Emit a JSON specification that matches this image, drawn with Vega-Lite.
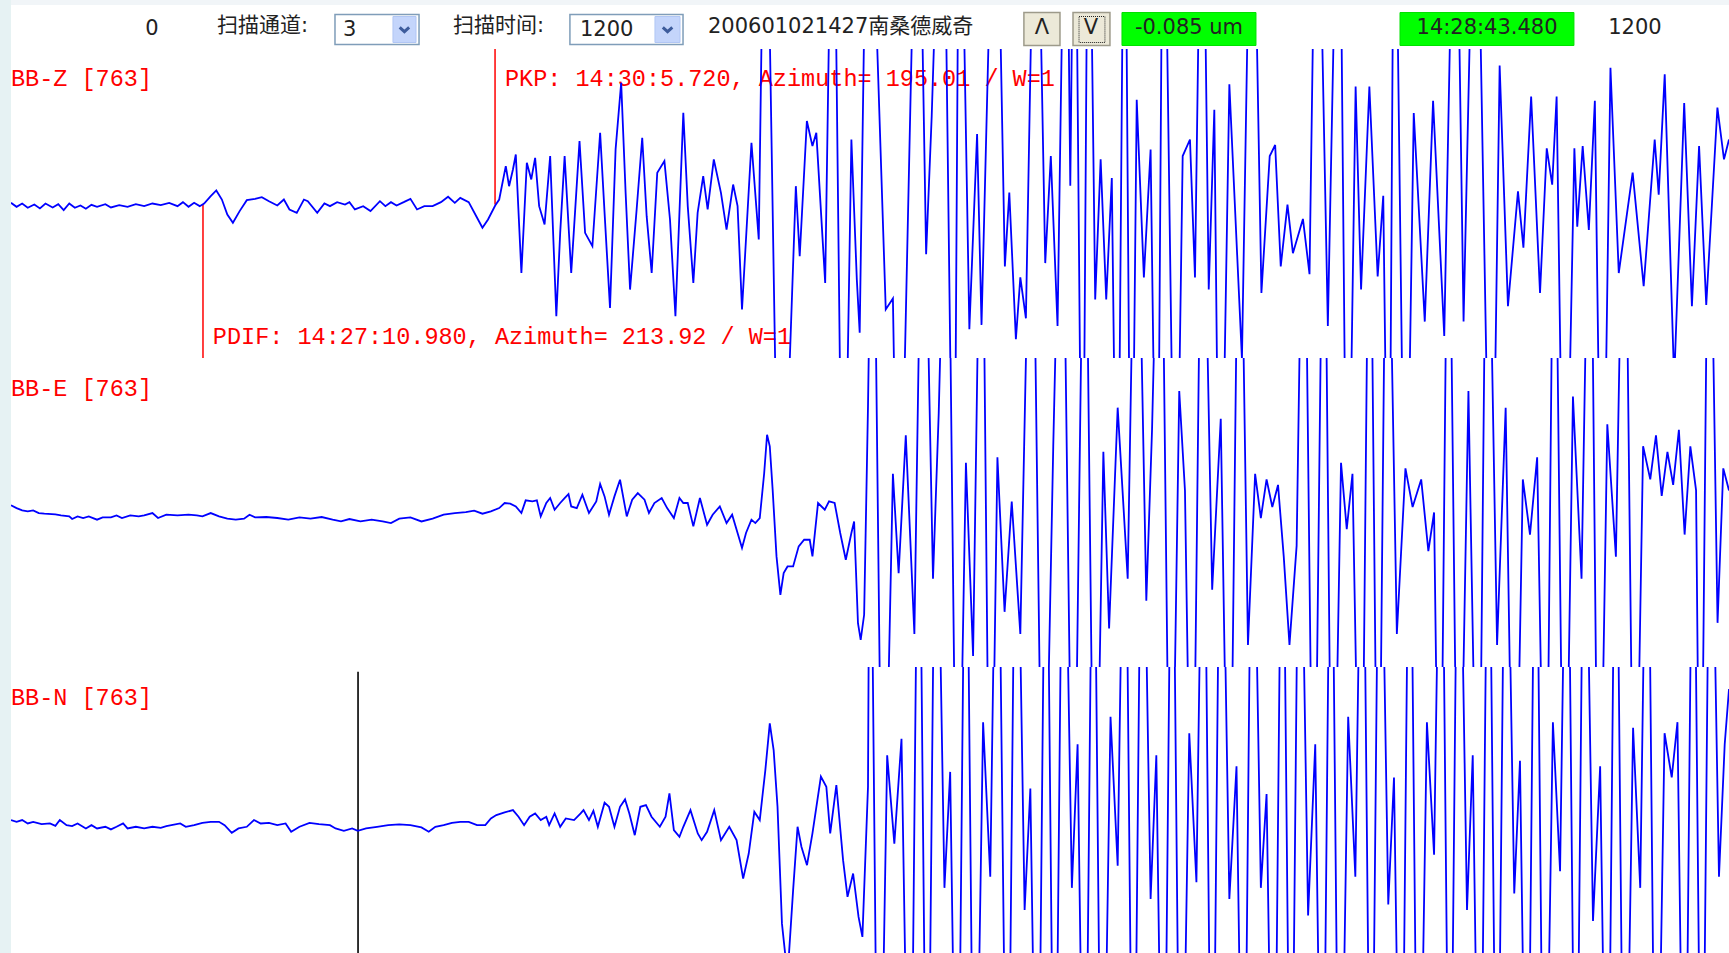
{
"$schema": "https://vega.github.io/schema/vega-lite/v6.json",
"background": "#e6f2f3",
"padding": {"left": 11, "top": 0, "right": 0, "bottom": 0},
"spacing": 0,
"bounds": "flush",
"config": {"view": {"stroke": null}, "concat": {"spacing": 0}},
"datasets": {
"Z": [{"t":0,"a":1.6},{"t":3.9,"a":-2.0},{"t":7.8,"a":1.0},{"t":11.7,"a":-2.9},{"t":16.3,"a":0.1},{"t":20.2,"a":-3.5},{"t":24.1,"a":1.0},{"t":29.1,"a":-2.6},{"t":33.0,"a":0.4},{"t":36.8,"a":-5.0},{"t":40.7,"a":1.0},{"t":44.6,"a":-2.9},{"t":48.5,"a":-0.8},{"t":52.3,"a":-3.8},{"t":56.2,"a":-0.2},{"t":60.1,"a":-2.0},{"t":65.9,"a":0.4},{"t":69.8,"a":-2.6},{"t":75.6,"a":-0.5},{"t":81.4,"a":-2.0},{"t":87.2,"a":0.4},{"t":93.0,"a":-1.4},{"t":98.8,"a":1.0},{"t":104.6,"a":-0.5},{"t":110.5,"a":1.6},{"t":116.3,"a":-1.4},{"t":120.1,"a":2.2},{"t":124.0,"a":-2.0},{"t":127.9,"a":1.6},{"t":131.8,"a":-1.4},{"t":134.9,"a":1.0},{"t":139.5,"a":7.7},{"t":143.4,"a":12.8},{"t":147.3,"a":4.6},{"t":151.1,"a":-9.0},{"t":155.0,"a":-16.5},{"t":159.7,"a":-5.9},{"t":164.7,"a":4.0},{"t":170.5,"a":5.2},{"t":175.2,"a":6.8},{"t":180.2,"a":3.1},{"t":186.0,"a":-0.8},{"t":190.6,"a":4.6},{"t":194.5,"a":-4.4},{"t":199.6,"a":-7.5},{"t":204.6,"a":4.6},{"t":207.3,"a":3.1},{"t":213.9,"a":-7.5},{"t":218.9,"a":1.0},{"t":222.8,"a":-1.4},{"t":227.8,"a":2.2},{"t":233.3,"a":0.1},{"t":236.4,"a":2.2},{"t":240.2,"a":-4.4},{"t":246.0,"a":-1.4},{"t":251.1,"a":-5.9},{"t":257.7,"a":3.1},{"t":261.5,"a":-1.4},{"t":265.4,"a":2.2},{"t":269.3,"a":-0.8},{"t":274.3,"a":2.2},{"t":279.0,"a":5.2},{"t":283.6,"a":-4.4},{"t":288.7,"a":-1.4},{"t":294.5,"a":-1.4},{"t":300.3,"a":2.2},{"t":305.3,"a":7.1},{"t":310.0,"a":1.6},{"t":313.8,"a":6.1},{"t":319.7,"a":2.2},{"t":324.7,"a":-9.9},{"t":329.3,"a":-21.0},{"t":333.2,"a":-13.5},{"t":338.2,"a":-0.8},
{"t":341.0,"a":4.6},{"t":345.6,"a":34.9},{"t":347.9,"a":16.7},{"t":350.6,"a":31.8},{"t":352.6,"a":45.4},{"t":356.5,"a":-61.9},{"t":360.3,"a":37.9},{"t":363.4,"a":22.8},{"t":366.1,"a":42.4},{"t":368.9,"a":-1.4},{"t":372.7,"a":-18.0},{"t":376.6,"a":43.9},{"t":380.9,"a":-101.2},{"t":383.6,"a":-25.6},{"t":386.7,"a":43.9},{"t":391.3,"a":-61.9},{"t":397.1,"a":57.5},{"t":401.0,"a":-25.6},{"t":406.1,"a":-37.7},{"t":411.5,"a":65.1},{"t":414.6,"a":-7.5},{"t":418.4,"a":-93.6},{"t":422.3,"a":50.0},{"t":426.2,"a":110.4},{"t":429.3,"a":10.7},{"t":432.4,"a":-77.0},{"t":437.0,"a":-4.4},{"t":440.9,"a":60.6},{"t":444.0,"a":-10.5},{"t":447.5,"a":-61.9},{"t":451.4,"a":28.8},{"t":456.4,"a":39.4},{"t":460.3,"a":-13.5},{"t":464.1,"a":-101.2},{"t":469.6,"a":83.2},{"t":472.7,"a":-1.4},{"t":476.6,"a":-70.9},{"t":479.6,"a":-7.5},{"t":483.5,"a":25.8},{"t":486.6,"a":-4.4},{"t":490.9,"a":40.9},{"t":495.9,"a":10.7},{"t":499.8,"a":-22.6},{"t":504.4,"a":18.2},{"t":507.5,"a":-1.4},{"t":510.6,"a":-95.1},{"t":517.2,"a":56.0},{"t":522.3,"a":-31.6},{"t":526.9,"a":400},{"t":537.0,"a":-400},{"t":548.2,"a":16.7},{"t":550.9,"a":-46.8},{"t":555.9,"a":75.7},{"t":559.8,"a":53},{"t":562.5,"a":65},{"t":568.7,"a":-71},{"t":574.2,"a":400},{"t":581.2,"a":-400},{"t":587.0,"a":59},{"t":590.8,"a":-68},{"t":592.8,"a":-116},{"t":598.6,"a":400},{"t":611.0,"a":-95},{"t":616.0,"a":-85},{"t":620.0,"a":-400},{"t":633.4,"a":400},{"t":639.2,"a":-45},{"t":643.1,"a":80},{"t":650.9,"a":400},{"t":658.6,"a":-400},{"t":662.5,"a":400},{"t":669.4,"a":-113},{"t":674.8,"a":64},{"t":677.9,"a":-109},{"t":687.6,"a":400},{"t":694.2,"a":-56},{"t":697.3,"a":11},{"t":701.9,"a":-122},{"t":705.0,"a":-66},{"t":708.9,"a":-103},{"t":715.9,"a":400},{"t":722.4,"a":-53},{"t":726.3,"a":44},{"t":731.0,"a":-110},{"t":736.8,"a":400},{"t":739.9,"a":17},{"t":743.0,"a":400},{"t":748.4,"a":-400},{"t":752.6,"a":400},{"t":757.3,"a":-86},{"t":761.1,"a":41},{"t":765.0,"a":-86},{"t":768.9,"a":24},{"t":772.8,"a":-400},{"t":777.8,"a":400},{"t":782.4,"a":-400},{"t":786.3,"a":95},{"t":791.3,"a":-66},{"t":796.0,"a":50},{"t":800.6,"a":-400},{"t":804.9,"a":400},{"t":813.4,"a":-400},{"t":818.4,"a":44},{"t":823.5,"a":59},{"t":827.0,"a":-66},{"t":832.0,"a":400},{"t":836.6,"a":-77},{"t":840.5,"a":86},{"t":844.4,"a":-400},{"t":851.0,"a":109},{"t":859.8,"a":-140},{"t":866.8,"a":400},{"t":873.4,"a":-80},{"t":879.2,"a":44},{"t":883.0,"a":54},{"t":886.9,"a":-56},{"t":891.6,"a":0},{"t":895.4,"a":-44},{"t":902.4,"a":-13},{"t":907.0,"a":-63},{"t":912.1,"a":400},{"t":919.8,"a":-110},{"t":927.6,"a":400},{"t":933.4,"a":-400},{"t":939.2,"a":107},{"t":943.0,"a":-77},{"t":948.8,"a":107},{"t":954.6,"a":-65},{"t":958.5,"a":8},{"t":962.4,"a":-400},{"t":966.3,"a":400},{"t":974.0,"a":-400},{"t":979.8,"a":83},{"t":987.5,"a":-106},{"t":993.3,"a":94},{"t":1001.1,"a":-119},{"t":1008.8,"a":400},{"t":1014.6,"a":-106},{"t":1023.1,"a":400},{"t":1034.0,"a":-400},{"t":1039.8,"a":126},{"t":1045.6,"a":-92},{"t":1052.6,"a":12},{"t":1056.4,"a":-39},{"t":1061.8,"a":98},{"t":1068.0,"a":-80},{"t":1072.7,"a":51},{"t":1076.5,"a":18},{"t":1079.6,"a":98},{"t":1085.1,"a":-400},{"t":1092.0,"a":51},{"t":1094.0,"a":-20},{"t":1097.8,"a":53},{"t":1102.1,"a":-23},{"t":1106.3,"a":94},{"t":1111.4,"a":-400},{"t":1117.2,"a":124},{"t":1123.0,"a":-62},{"t":1132.7,"a":29},{"t":1140.4,"a":-74},{"t":1148.1,"a":59},{"t":1150.9,"a":9},{"t":1155.1,"a":118},{"t":1161.7,"a":-160},{"t":1168.7,"a":92},{"t":1174.1,"a":-92},{"t":1179.1,"a":53},{"t":1184.1,"a":-91},{"t":1191.9,"a":88},{"t":1196.5,"a":41},{"t":1200,"a":59}],
"E": [{"t":0,"a":6.5},{"t":3.9,"a":4.0},{"t":7.8,"a":1.9},{"t":11.7,"a":1.0},{"t":15.5,"a":1.9},{"t":19.4,"a":-0.5},{"t":23.3,"a":-1.1},{"t":31.0,"a":-1.7},{"t":34.9,"a":-2.6},{"t":40.7,"a":-3.5},{"t":42.7,"a":-5.9},{"t":46.5,"a":-3.5},{"t":50.4,"a":-5.0},{"t":54.3,"a":-3.5},{"t":60.1,"a":-6.5},{"t":64.0,"a":-4.4},{"t":69.8,"a":-4.4},{"t":73.7,"a":-2.6},{"t":77.5,"a":-5.0},{"t":83.3,"a":-2.6},{"t":89.2,"a":-3.5},{"t":93.0,"a":-2.6},{"t":98.8,"a":-0.5},{"t":102.7,"a":-5.0},{"t":108.5,"a":-2.0},{"t":116.3,"a":-2.6},{"t":124.0,"a":-2.0},{"t":129.8,"a":-2.6},{"t":133.7,"a":-3.5},{"t":139.5,"a":-0.5},{"t":145.3,"a":-3.5},{"t":151.1,"a":-5.6},{"t":157.0,"a":-6.5},{"t":162.8,"a":-5.6},{"t":166.6,"a":-2.0},{"t":170.5,"a":-4.4},{"t":178.3,"a":-4.1},{"t":186.0,"a":-5.0},{"t":193.7,"a":-6.5},{"t":201.5,"a":-4.4},{"t":209.2,"a":-5.6},{"t":217.0,"a":-4.1},{"t":224.7,"a":-6.5},{"t":230.5,"a":-8.1},{"t":236.4,"a":-5.9},{"t":244.1,"a":-8.1},{"t":251.9,"a":-6.5},{"t":259.6,"a":-8.1},{"t":265.4,"a":-9.6},{"t":271.2,"a":-5.6},{"t":279.0,"a":-4.4},{"t":286.7,"a":-8.1},{"t":294.5,"a":-5.6},{"t":302.2,"a":-2.0},{"t":310.0,"a":-0.5},{"t":317.7,"a":0.4},{"t":323.5,"a":1.6},{"t":329.3,"a":-1.1},{"t":335.2,"a":1.0},{"t":341.0,"a":4.0},{"t":344.8,"a":8.6},{"t":348.7,"a":8.0},{"t":352.6,"a":5.5},{"t":356.5,"a":-0.5},{"t":359.5,"a":11.0},{"t":364.2,"a":10.1},{"t":367.3,"a":11.0},{"t":370.0,"a":-3.5},{"t":373.9,"a":8.6},{"t":376.6,"a":13.1},{"t":379.7,"a":2.5},{"t":383.6,"a":8.6},{"t":386.7,"a":13.1},{"t":389.4,"a":16.7},{"t":391.3,"a":5.5},{"t":395.2,"a":4.0},{"t":399.1,"a":16.1},{"t":403.7,"a":-0.5},{"t":408.8,"a":10.1},{"t":411.5,"a":25.8},{"t":414.6,"a":14.6},{"t":417.7,"a":-2.0},{"t":421.5,"a":14.6},{"t":425.4,"a":29.7},{"t":430.1,"a":-3.5},{"t":433.9,"a":11.6},{"t":437.8,"a":17.6},{"t":442.5,"a":11.6},{"t":445.6,"a":-0.5},{"t":449.4,"a":8.6},{"t":454.5,"a":13.1},{"t":458.3,"a":4.0},{"t":463.0,"a":-5.0},{"t":466.9,"a":13.1},{"t":469.6,"a":8.6},{"t":472.7,"a":8.6},{"t":476.6,"a":-12.6},{"t":481.2,"a":13.1},{"t":486.2,"a":-11.1},{"t":490.1,"a":-2.0},{"t":495.1,"a":5.5},{"t":499.8,"a":-9.6},{"t":503.7,"a":-2.0},{"t":507.5,"a":-18.6},{"t":510.6,"a":-32.2},{"t":513.4,"a":-18.6},{"t":517.2,"a":-6.5},{"t":519.9,"a":-9.6},{"t":523.0,"a":-5.0},{"t":526.1,"a":35.8},{"t":528.1,"a":70.5},{"t":530.0,"a":60.0},{"t":532.0,"a":20.7},{"t":534.7,"a":-39.8},{"t":537.4,"a":-74.6},{"t":539.7,"a":-54.9},{"t":542.4,"a":-48.9},{"t":546.3,"a":-48.9},{"t":550.2,"a":-30.7},{"t":554.0,"a":-24.7},{"t":557.9,"a":-24.7},{"t":559.8,"a":-39.8},{"t":563.7,"a":8.6},{"t":568.4,"a":2.5},{"t":571.4,"a":10.1},{"t":575.3,"a":8.6},{"t":579.2,"a":-18.6},{"t":583.1,"a":-42.8},{"t":587.0,"a":-18.6},{"t":588.9,"a":-8.1},{"t":591.6,"a":-100.3},{"t":593.5,"a":-115.4},{"t":595.9,"a":-92.7},{"t":598.6,"a":96.2},
{"t":602,"a":400},{"t":609,"a":-400},{"t":616,"a":35},{"t":620,"a":-55},{"t":625,"a":70},{"t":631,"a":-110},{"t":637,"a":400},{"t":644,"a":-60},{"t":648,"a":90},{"t":654,"a":400},{"t":661,"a":-400},{"t":667,"a":45},{"t":672,"a":-130},{"t":678,"a":400},{"t":684,"a":-400},{"t":689,"a":50},{"t":694,"a":-90},{"t":699,"a":10},{"t":705,"a":-110},{"t":713,"a":400},{"t":721,"a":-400},{"t":728,"a":60},{"t":734,"a":400},{"t":742,"a":-400},{"t":750,"a":400},{"t":757,"a":-400},{"t":763,"a":55},{"t":767,"a":-105},{"t":773,"a":95},{"t":780,"a":-60},{"t":786,"a":400},{"t":793,"a":-80},{"t":797,"a":75},{"t":803,"a":400},{"t":810,"a":-400},{"t":816,"a":110},{"t":820,"a":20},{"t":825,"a":-400},{"t":832,"a":400},{"t":839,"a":-70},{"t":845,"a":85},{"t":851,"a":-400},{"t":858,"a":400},{"t":864,"a":-120},{"t":869,"a":35},{"t":873,"a":-5},{"t":877,"a":30},{"t":881,"a":5},{"t":885,"a":25},{"t":889,"a":-40},{"t":893,"a":-120},{"t":898,"a":-30},{"t":903,"a":400},{"t":910,"a":-400},{"t":917,"a":400},{"t":923,"a":-400},{"t":929,"a":45},{"t":933,"a":-15},{"t":937,"a":35},{"t":943,"a":-400},{"t":949,"a":400},{"t":955,"a":-400},{"t":961,"a":400},{"t":968,"a":-110},{"t":974,"a":40},{"t":979,"a":5},{"t":985,"a":30},{"t":990,"a":-35},{"t":994,"a":0},{"t":998,"a":-400},{"t":1004,"a":400},{"t":1011,"a":-400},{"t":1018,"a":110},{"t":1025,"a":-400},{"t":1031,"a":400},{"t":1038,"a":-120},{"t":1044,"a":95},{"t":1050,"a":-400},{"t":1056,"a":30},{"t":1061,"a":-20},{"t":1066,"a":50},{"t":1072,"a":-400},{"t":1078,"a":400},{"t":1085,"a":-400},{"t":1091,"a":105},{"t":1097,"a":-60},{"t":1103,"a":400},{"t":1109,"a":-400},{"t":1115,"a":80},{"t":1121,"a":-40},{"t":1127,"a":400},{"t":1134,"a":-400},{"t":1140,"a":60},{"t":1145,"a":30},{"t":1149,"a":70},{"t":1153,"a":15},{"t":1157,"a":55},{"t":1161,"a":25},{"t":1165,"a":75},{"t":1169,"a":-20},{"t":1173,"a":60},{"t":1177,"a":20},{"t":1180,"a":-400},{"t":1186,"a":400},{"t":1192,"a":-100},{"t":1196,"a":40},{"t":1200,"a":20}],
"N": [{"t":0,"a":1.4},{"t":3.9,"a":-0.2},{"t":7.8,"a":1.4},{"t":11.7,"a":-1.7},{"t":15.5,"a":-0.2},{"t":21.4,"a":-2.3},{"t":27.2,"a":-1.7},{"t":31.0,"a":-3.8},{"t":34.1,"a":1.4},{"t":38.8,"a":-3.2},{"t":42.7,"a":-4.1},{"t":46.5,"a":-1.7},{"t":52.3,"a":-6.2},{"t":56.2,"a":-3.2},{"t":60.1,"a":-6.2},{"t":65.9,"a":-4.7},{"t":69.8,"a":-7.1},{"t":73.7,"a":-4.7},{"t":78.3,"a":-1.7},{"t":81.4,"a":-6.2},{"t":87.2,"a":-4.7},{"t":93.0,"a":-6.2},{"t":98.8,"a":-4.7},{"t":104.6,"a":-5.6},{"t":108.5,"a":-4.1},{"t":118.2,"a":-1.7},{"t":122.1,"a":-4.7},{"t":127.9,"a":-3.2},{"t":133.7,"a":-1.1},{"t":139.5,"a":-0.2},{"t":145.3,"a":-0.2},{"t":149.2,"a":-3.2},{"t":154.2,"a":-10.1},{"t":158.9,"a":-6.2},{"t":164.7,"a":-4.7},{"t":169.7,"a":1.4},{"t":174.4,"a":-1.7},{"t":180.2,"a":-1.1},{"t":186.0,"a":-3.2},{"t":191.8,"a":-1.7},{"t":195.7,"a":-9.2},{"t":201.5,"a":-4.7},{"t":208.5,"a":-1.1},{"t":215.1,"a":-2.3},{"t":222.8,"a":-3.2},{"t":226.7,"a":-6.2},{"t":232.5,"a":-8.3},{"t":238.3,"a":-6.2},{"t":242.2,"a":-8.3},{"t":248.0,"a":-6.2},{"t":255.7,"a":-4.7},{"t":263.5,"a":-3.2},{"t":271.2,"a":-2.6},{"t":279.0,"a":-3.2},{"t":286.7,"a":-5.3},{"t":291.8,"a":-9.2},{"t":296.4,"a":-4.7},{"t":302.2,"a":-3.2},{"t":308.0,"a":-1.1},{"t":313.8,"a":-0.2},{"t":319.7,"a":-0.2},{"t":325.5,"a":-3.2},{"t":331.3,"a":-3.2},{"t":335.2,"a":2.9},{"t":339.0,"a":5.9},{"t":344.8,"a":8.3},{"t":350.6,"a":10.4},{"t":354.5,"a":4.4},{"t":358.4,"a":-3.2},{"t":362.3,"a":4.4},{"t":366.1,"a":7.4},{"t":370.0,"a":1.4},{"t":373.9,"a":4.4},{"t":375.9,"a":-3.2},{"t":379.7,"a":7.4},{"t":383.6,"a":-4.7},{"t":387.5,"a":2.9},{"t":393.3,"a":1.4},{"t":397.9,"a":7.4},{"t":399.9,"a":10.4},{"t":403.7,"a":1.4},{"t":406.8,"a":9.8},{"t":409.9,"a":-4.7},{"t":414.6,"a":17.1},{"t":417.7,"a":13.4},{"t":421.5,"a":-4.7},{"t":425.4,"a":13.4},{"t":428.9,"a":20.1},{"t":431.9,"a":7.4},{"t":435.7,"a":-12.3},{"t":439.6,"a":13.4},{"t":443.5,"a":15.0},{"t":447.4,"a":4.4},{"t":453.2,"a":-4.7},{"t":457.2,"a":4.4},{"t":459.9,"a":25.5},{"t":463.0,"a":-7.7},{"t":466.9,"a":-13.8},{"t":469.6,"a":-4.7},{"t":474.6,"a":10.4},{"t":479.7,"a":-10.7},{"t":482.4,"a":-16.8},{"t":486.2,"a":-9.2},{"t":491.2,"a":10.4},{"t":495.9,"a":-16.8},{"t":501.7,"a":-4.7},{"t":506.8,"a":-16.8},{"t":511.4,"a":-51.6},{"t":515.3,"a":-28.9},{"t":519.2,"a":8.9},{"t":523.0,"a":1.4},{"t":526.9,"a":46.7},{"t":530.0,"a":89.0},{"t":532.7,"a":64.8},{"t":535.4,"a":13.4},{"t":538.5,"a":-92.4},{"t":542.4,"a":-140},{"t":546.3,"a":-62.1},{"t":549.4,"a":-4.7},{"t":552.1,"a":-22.8},{"t":556.0,"a":-39.5},{"t":559.8,"a":-10.7},{"t":565.7,"a":40.7},{"t":569.5,"a":31.6},{"t":572.2,"a":-10.7},{"t":576.5,"a":33.1},{"t":581.2,"a":-34.9},{"t":584.3,"a":-68.2},{"t":588.2,"a":-47.0},{"t":592.0,"a":-86.3},{"t":594.7,"a":-104.4},{"t":598.6,"a":31.6},
{"t":600,"a":400},{"t":606,"a":-400},{"t":612,"a":60},{"t":617,"a":-20},{"t":622,"a":75},{"t":628,"a":-400},{"t":634,"a":400},{"t":640,"a":-400},{"t":646,"a":400},{"t":652,"a":-60},{"t":656,"a":45},{"t":661,"a":-400},{"t":667,"a":400},{"t":673,"a":-400},{"t":679,"a":90},{"t":684,"a":-50},{"t":689,"a":400},{"t":696,"a":-400},{"t":702,"a":400},{"t":708,"a":-80},{"t":712,"a":30},{"t":717,"a":-400},{"t":723,"a":400},{"t":729,"a":-400},{"t":735,"a":400},{"t":741,"a":-60},{"t":745,"a":70},{"t":750,"a":-400},{"t":756,"a":400},{"t":762,"a":-400},{"t":768,"a":95},{"t":773,"a":-40},{"t":778,"a":400},{"t":784,"a":-400},{"t":790,"a":400},{"t":796,"a":-70},{"t":800,"a":60},{"t":805,"a":-400},{"t":811,"a":400},{"t":817,"a":-400},{"t":823,"a":80},{"t":828,"a":-55},{"t":833,"a":400},{"t":839,"a":-400},{"t":845,"a":400},{"t":851,"a":-70},{"t":856,"a":50},{"t":861,"a":-400},{"t":867,"a":400},{"t":873,"a":-60},{"t":877,"a":25},{"t":882,"a":-400},{"t":888,"a":400},{"t":894,"a":-400},{"t":900,"a":400},{"t":906,"a":-85},{"t":911,"a":70},{"t":916,"a":-400},{"t":922,"a":400},{"t":928,"a":-400},{"t":934,"a":95},{"t":939,"a":-50},{"t":944,"a":400},{"t":950,"a":-400},{"t":956,"a":400},{"t":962,"a":-75},{"t":966,"a":40},{"t":971,"a":-400},{"t":977,"a":400},{"t":983,"a":-400},{"t":989,"a":90},{"t":994,"a":-30},{"t":999,"a":400},{"t":1005,"a":-400},{"t":1011,"a":400},{"t":1017,"a":-80},{"t":1021,"a":60},{"t":1026,"a":-400},{"t":1032,"a":400},{"t":1038,"a":-400},{"t":1044,"a":400},{"t":1050,"a":-65},{"t":1054,"a":55},{"t":1059,"a":-400},{"t":1065,"a":400},{"t":1071,"a":-400},{"t":1077,"a":90},{"t":1082,"a":-45},{"t":1087,"a":400},{"t":1093,"a":-400},{"t":1099,"a":400},{"t":1105,"a":-90},{"t":1110,"a":50},{"t":1115,"a":-400},{"t":1121,"a":400},{"t":1127,"a":-400},{"t":1133,"a":85},{"t":1138,"a":-60},{"t":1143,"a":400},{"t":1149,"a":-400},{"t":1155,"a":80},{"t":1160,"a":40},{"t":1164,"a":90},{"t":1169,"a":-400},{"t":1175,"a":400},{"t":1181,"a":-400},{"t":1187,"a":400},{"t":1193,"a":-50},{"t":1197,"a":70},{"t":1200,"a":120}],
"labels": [{"panel":"Z","label":"BB-Z [763]","t":0,"a":114},{"panel":"Z","label":"PKP: 14:30:5.720, Azimuth= 195.01 / W=1","t":345,"a":114},{"panel":"Z","label":"PDIF: 14:27:10.980, Azimuth= 213.92 / W=1","t":141,"a":-120},{"panel":"E","label":"BB-E [763]","t":0,"a":112},{"panel":"N","label":"BB-N [763]","t":0,"a":112}],
"marks": [{"panel":"Z","kind":"PKP","t":338.1,"a0":0,"a1":141},{"panel":"Z","kind":"PDIF","t":134.1,"a0":0,"a1":-139},{"panel":"N","kind":"cursor","t":242.4,"a0":135.6,"a1":-119}],
"boxes": [{"kind":"dropdown","t1":226.3,"t2":285.0,"y1":12.5,"y2":-17.5},{"kind":"dropdown","t1":390.4,"t2":469.4,"y1":12.5,"y2":-17.5},{"kind":"ddbtn","t1":266.8,"t2":282.9,"y1":10.5,"y2":-15.5},{"kind":"ddbtn","t1":449.8,"t2":467.3,"y1":10.5,"y2":-15.5},{"kind":"button","t1":707.5,"t2":732.7,"y1":14.5,"y2":-18.5},{"kind":"button","t1":741.8,"t2":767.6,"y1":14.5,"y2":-18.5},{"kind":"focus","t1":746.0,"t2":764.1,"y1":10.5,"y2":-15.5},{"kind":"green","t1":776.0,"t2":869.6,"y1":14.5,"y2":-18.5},{"kind":"green","t1":970.2,"t2":1091.7,"y1":14.5,"y2":-18.5}],
"chev": [{"t":274.8,"y":-2.5},{"t":458.6,"y":-2.5}],
"tbtext": [{"group":"left","label":"扫描通道:","t":143.9,"y":1.5},{"group":"left","label":"3","t":231.9,"y":-3},{"group":"left","label":"扫描时间:","t":308.7,"y":1.5},{"group":"left","label":"1200","t":397.4,"y":-3},{"group":"left","label":"200601021427南桑德威奇","t":486.8,"y":0.2},{"group":"center","label":"0","t":98.5,"y":-2},{"group":"center","label":"Λ","t":720.1,"y":-0.9},{"group":"center","label":"V","t":754.3,"y":-0.9},{"group":"center","label":"-0.085 um","t":822.8,"y":-0.9},{"group":"center","label":"14:28:43.480","t":1031,"y":-0.9},{"group":"center","label":"1200","t":1134.3,"y":-0.9}]
},
"vconcat": [
{"width": 1718, "height": 5, "data": {"values": [{}]}, "mark": {"type": "rect", "color": "#f1f5f8"}},
{"width": 1718, "height": 44, "view": {"fill": "#ffffff", "stroke": null},
 "layer": [
  {"data": {"name": "boxes"}, "transform": [{"filter": "datum.kind == 'dropdown'"}], "mark": {"type": "rect", "fill": "#ffffff", "stroke": "#7f9db9", "strokeWidth": 1.5},
   "encoding": {"x": {"field": "t1", "type": "quantitative", "scale": {"domain": [0, 1200], "nice": false, "zero": false}, "axis": null}, "x2": {"field": "t2"}, "y": {"field": "y1", "type": "quantitative", "scale": {"domain": [-22, 22], "nice": false, "zero": false}, "axis": null}, "y2": {"field": "y2"}}},
  {"data": {"name": "boxes"}, "transform": [{"filter": "datum.kind == 'ddbtn'"}], "mark": {"type": "rect", "fill": "#c4d5fb", "stroke": "#b1c6f4", "strokeWidth": 1},
   "encoding": {"x": {"field": "t1", "type": "quantitative"}, "x2": {"field": "t2"}, "y": {"field": "y1", "type": "quantitative"}, "y2": {"field": "y2"}}},
  {"data": {"name": "boxes"}, "transform": [{"filter": "datum.kind == 'button'"}], "mark": {"type": "rect", "fill": "#ece9d8", "stroke": "#9d9a8a", "strokeWidth": 1.5},
   "encoding": {"x": {"field": "t1", "type": "quantitative"}, "x2": {"field": "t2"}, "y": {"field": "y1", "type": "quantitative"}, "y2": {"field": "y2"}}},
  {"data": {"name": "boxes"}, "transform": [{"filter": "datum.kind == 'focus'"}], "mark": {"type": "rect", "filled": false, "stroke": "#222222", "strokeWidth": 1, "strokeDash": [1, 1]},
   "encoding": {"x": {"field": "t1", "type": "quantitative"}, "x2": {"field": "t2"}, "y": {"field": "y1", "type": "quantitative"}, "y2": {"field": "y2"}}},
  {"data": {"name": "boxes"}, "transform": [{"filter": "datum.kind == 'green'"}], "mark": {"type": "rect", "fill": "#00ff00", "stroke": "#00e000", "strokeWidth": 1},
   "encoding": {"x": {"field": "t1", "type": "quantitative"}, "x2": {"field": "t2"}, "y": {"field": "y1", "type": "quantitative"}, "y2": {"field": "y2"}}},
  {"data": {"name": "chev"}, "mark": {"type": "point", "shape": "M-1,-0.45L0,0.45L1,-0.45", "filled": false, "stroke": "#3d5c9c", "strokeWidth": 3, "size": 90, "opacity": 1},
   "encoding": {"x": {"field": "t", "type": "quantitative"}, "y": {"field": "y", "type": "quantitative"}}},
  {"data": {"name": "tbtext"}, "transform": [{"filter": "datum.group == 'left'"}], "mark": {"type": "text", "align": "left", "baseline": "middle", "font": "DejaVu Sans, Noto Sans CJK SC", "fontSize": 21, "color": "#222222"},
   "encoding": {"x": {"field": "t", "type": "quantitative"}, "y": {"field": "y", "type": "quantitative"}, "text": {"field": "label"}}},
  {"data": {"name": "tbtext"}, "transform": [{"filter": "datum.group == 'center'"}], "mark": {"type": "text", "align": "center", "baseline": "middle", "font": "DejaVu Sans", "fontSize": 21, "color": "#222222"},
   "encoding": {"x": {"field": "t", "type": "quantitative"}, "y": {"field": "y", "type": "quantitative"}, "text": {"field": "label"}}}
 ]},
{"width": 1718, "height": 309, "view": {"fill": "#ffffff", "stroke": null},
 "layer": [
  {"data": {"name": "labels"}, "transform": [{"filter": "datum.panel == 'Z'"}], "mark": {"type": "text", "align": "left", "baseline": "middle", "font": "Liberation Mono", "fontSize": 23.5, "color": "#ff0000"},
   "encoding": {"x": {"field": "t", "type": "quantitative", "scale": {"domain": [0, 1200], "nice": false, "zero": false}, "axis": null}, "y": {"field": "a", "type": "quantitative", "scale": {"domain": [-139, 141], "nice": false, "zero": false}, "axis": null}, "text": {"field": "label"}}},
  {"data": {"name": "marks"}, "transform": [{"filter": "datum.panel == 'Z'"}], "mark": {"type": "rule", "color": "#ff0000", "strokeWidth": 1.5},
   "encoding": {"x": {"field": "t", "type": "quantitative"}, "y": {"field": "a0", "type": "quantitative"}, "y2": {"field": "a1"}}},
  {"data": {"name": "Z"}, "mark": {"type": "line", "clip": true, "color": "#0000ff", "strokeWidth": 1.8},
   "encoding": {"x": {"field": "t", "type": "quantitative"}, "y": {"field": "a", "type": "quantitative"}}}
 ]},
{"width": 1718, "height": 309, "view": {"fill": "#ffffff", "stroke": null},
 "layer": [
  {"data": {"name": "labels"}, "transform": [{"filter": "datum.panel == 'E'"}], "mark": {"type": "text", "align": "left", "baseline": "middle", "font": "Liberation Mono", "fontSize": 23.5, "color": "#ff0000"},
   "encoding": {"x": {"field": "t", "type": "quantitative", "scale": {"domain": [0, 1200], "nice": false, "zero": false}, "axis": null}, "y": {"field": "a", "type": "quantitative", "scale": {"domain": [-140, 140], "nice": false, "zero": false}, "axis": null}, "text": {"field": "label"}}},
  {"data": {"name": "E"}, "mark": {"type": "line", "clip": true, "color": "#0000ff", "strokeWidth": 1.8},
   "encoding": {"x": {"field": "t", "type": "quantitative"}, "y": {"field": "a", "type": "quantitative"}}}
 ]},
{"width": 1718, "height": 286, "view": {"fill": "#ffffff", "stroke": null},
 "layer": [
  {"data": {"name": "labels"}, "transform": [{"filter": "datum.panel == 'N'"}], "mark": {"type": "text", "align": "left", "baseline": "middle", "font": "Liberation Mono", "fontSize": 23.5, "color": "#ff0000"},
   "encoding": {"x": {"field": "t", "type": "quantitative", "scale": {"domain": [0, 1200], "nice": false, "zero": false}, "axis": null}, "y": {"field": "a", "type": "quantitative", "scale": {"domain": [-119, 140], "nice": false, "zero": false}, "axis": null}, "text": {"field": "label"}}},
  {"data": {"name": "marks"}, "transform": [{"filter": "datum.panel == 'N'"}], "mark": {"type": "rule", "color": "#000000", "strokeWidth": 1.6},
   "encoding": {"x": {"field": "t", "type": "quantitative"}, "y": {"field": "a0", "type": "quantitative"}, "y2": {"field": "a1"}}},
  {"data": {"name": "N"}, "mark": {"type": "line", "clip": true, "color": "#0000ff", "strokeWidth": 1.8},
   "encoding": {"x": {"field": "t", "type": "quantitative"}, "y": {"field": "a", "type": "quantitative"}}},
  {"mark": {"type": "rule", "color": "#c4c4c4", "strokeWidth": 2.5}, "encoding": {"y": {"datum": 140}}}
 ]}
]
}
